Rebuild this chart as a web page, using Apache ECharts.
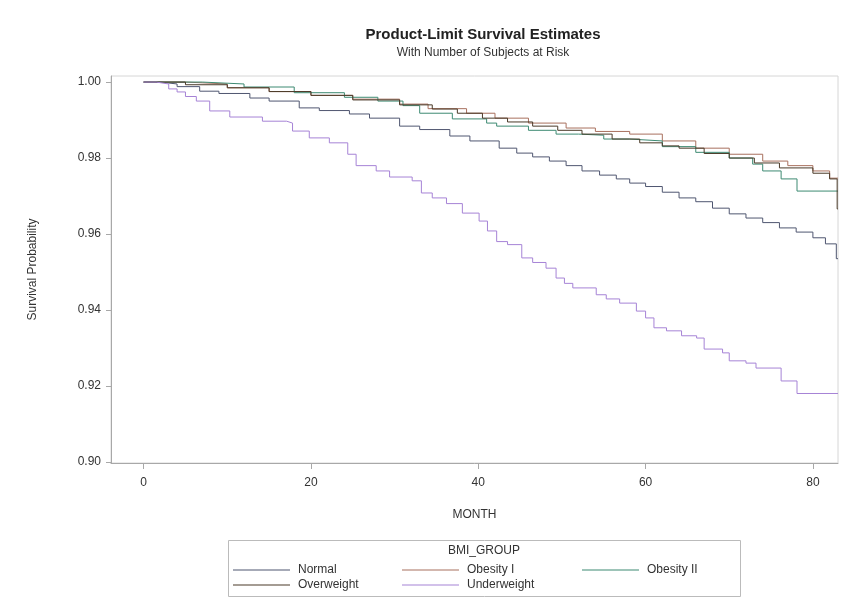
<!DOCTYPE html>
<html lang="en">
<head>
  <meta charset="utf-8">
  <style>
    html, body { margin: 0; padding: 0; background: #fff; }
    #container { width: 846px; height: 600px; }
  </style>
  <title>Product-Limit Survival Estimates</title>
</head>
<body>
  <div id="container"></div>

  <script type="text/javascript" src="https://fastly.jsdelivr.net/npm/echarts@6.0.0/dist/echarts.min.js"></script>

  <script type="text/javascript">
    // month / survival pairs (value holds until the next point)
    var normal = [[0,1.0],[2,0.9995],[4,0.9988],[6.7,0.9976],[9,0.997],[12.7,0.9958],[15,0.995],
      [18.6,0.9932],[21,0.9925],[24.6,0.9916],[27,0.9905],[30.6,0.9884],[33,0.9875],[36.6,0.9858],
      [39,0.9845],[42.5,0.9826],[44.6,0.9813],[46.5,0.9803],[48.5,0.9792],[50.5,0.978],[52.4,0.9766],
      [54.5,0.9755],[56.5,0.9745],[58.1,0.9734],[60,0.9725],[62,0.971],[64,0.9695],[66,0.9685],
      [68,0.9668],[70,0.9653],[72,0.9642],[74,0.963],[76,0.9616],[78,0.9605],[80,0.959],
      [81.5,0.9574],[82.8,0.9535],[83,0.9535]];
    var obesity1 = [[0,1.0],[5,0.9995],[10,0.9985],[15,0.9975],[20,0.9965],[25,0.9955],[30.6,0.9942],
      [34,0.993],[38.6,0.9918],[42,0.9905],[46,0.9892],[50.5,0.9879],[54,0.987],[58.1,0.9863],
      [62,0.9845],[66,0.9826],[70,0.981],[74,0.9792],[77,0.978],[80,0.9766],[82,0.9747],[83,0.9747]];
    var obesity2 = [[0,1.0],[7,0.9995],[12,0.9987],[18,0.9972],[24,0.996],[28,0.995],[31,0.9938],
      [33,0.9918],[36.9,0.9903],[41,0.9892],[42.2,0.9884],[46,0.9873],[49.3,0.9863],[52,0.986],
      [55,0.985],[58.1,0.9845],[62,0.983],[66,0.9815],[70,0.98],[72.8,0.9784],[74,0.9766],
      [76.2,0.9745],[78.1,0.9713],[83,0.9713]];
    var overweight = [[0,1.0],[5,0.9993],[10,0.9985],[15,0.9975],[20,0.9965],[25,0.9953],[30.6,0.994],
      [34.5,0.9929],[37.5,0.9918],[40.5,0.9905],[43.5,0.9895],[46.5,0.9884],[49.5,0.9873],
      [52.4,0.9863],[56,0.985],[59.3,0.984],[62,0.9832],[64,0.9826],[67,0.9812],[70,0.98],
      [73,0.9787],[76,0.9774],[80,0.976],[82,0.9745],[82.9,0.9666],[83,0.9666]];
    var underweight = [[0,1.0],[1.5,0.9995],[3,0.9982],[4,0.9974],[5,0.9962],[6.3,0.995],[7.9,0.9924],
      [10.3,0.9908],[14.2,0.9897],[17.1,0.9892],[17.8,0.9871],[19.8,0.9853],[22.2,0.984],[24.4,0.981],
      [25.4,0.978],[27.8,0.9766],[29.4,0.975],[32.1,0.974],[33.2,0.9708],[34.5,0.9695],[36.2,0.968],
      [38.1,0.9655],[40.1,0.9634],[41.1,0.9608],[42.2,0.958],[43.5,0.9572],[45.2,0.9537],[46.5,0.9525],
      [48.1,0.951],[49.3,0.9484],[50.3,0.947],[51.3,0.9458],[54.1,0.944],[55.3,0.9429],[56.9,0.9418],
      [58.9,0.9397],[60,0.9379],[61,0.9353],[62.5,0.9345],[64.3,0.9332],[66.1,0.9326],[67,0.9297],
      [69.2,0.9287],[70,0.9266],[72,0.926],[73.2,0.9247],[76.2,0.9213],[78.1,0.918],[83,0.918]];

    var groups = ['Normal', 'Obesity I', 'Obesity II', 'Overweight', 'Underweight'];
    var groupData = [normal, obesity1, obesity2, overweight, underweight];
    var colors = ['#4f5670', '#a8705e', '#3d8a72', '#4a3a28', '#a683d6'];

    var monthTicks = [0, 20, 40, 60, 80];
    var survTicks = [0.90, 0.92, 0.94, 0.96, 0.98, 1.00];

    // legend slots: [left, top]
    var legendPos = [[233, 564], [402, 564], [582, 564], [233, 579], [402, 579]];

    var chart = echarts.init(document.getElementById('container'));

    var labelFont = { fontFamily: 'Liberation Sans, Arial, sans-serif', fontSize: 12, color: '#333' };

    var option = {
      animation: false,
      title: {
        text: 'Product-Limit Survival Estimates',
        subtext: 'With Number of Subjects at Risk',
        left: 478,
        textAlign: 'center',
        top: 22,
        itemGap: 5,
        textStyle: { fontFamily: 'Liberation Sans, Arial, sans-serif', fontSize: 15, fontWeight: 'bold', color: '#222' },
        subtextStyle: { fontFamily: 'Liberation Sans, Arial, sans-serif', fontSize: 12, color: '#333' }
      },
      grid: {
        left: 111, top: 76, right: 8, bottom: 137,
        show: true, borderColor: '#d6d6d6', borderWidth: 1
      },
      xAxis: {
        type: 'value',
        min: -3.9, max: 83,
        name: 'MONTH',
        nameLocation: 'middle',
        nameGap: 46,
        nameTextStyle: labelFont,
        axisLine: { onZero: false, lineStyle: { color: '#a8a8a8' } },
        axisTick: { customValues: monthTicks, length: 6, lineStyle: { color: '#a8a8a8' } },
        axisLabel: Object.assign({ customValues: monthTicks, margin: 14 }, labelFont),
        splitLine: { show: false }
      },
      yAxis: {
        type: 'value',
        min: 0.8997, max: 1.0016,
        name: 'Survival Probability',
        nameLocation: 'middle',
        nameGap: 72,
        nameTextStyle: labelFont,
        axisLine: { show: true, onZero: false, lineStyle: { color: '#a8a8a8' } },
        axisTick: { show: true, customValues: survTicks, length: 5, lineStyle: { color: '#a8a8a8' } },
        axisLabel: Object.assign({
          customValues: survTicks, margin: 10,
          formatter: function (v) { return v.toFixed(2); }
        }, labelFont),
        splitLine: { show: false }
      },
      legend: groups.map(function (g, i) {
        return {
          data: [g],
          icon: 'rect',
          left: legendPos[i][0], top: legendPos[i][1],
          itemWidth: 57, itemHeight: 1, itemGap: 0,
          padding: 0,
          textStyle: { fontFamily: 'Liberation Sans, Arial, sans-serif', fontSize: 12, color: '#333', padding: [0, 0, 0, 3] }
        };
      }),
      graphic: [
        {
          type: 'rect',
          shape: { x: 228.5, y: 540.5, width: 512, height: 56 },
          style: { fill: 'none', stroke: '#bbbbbb', lineWidth: 1 }
        },
        {
          type: 'text',
          x: 484, y: 545,
          style: { text: 'BMI_GROUP', fill: '#333', font: '12px Liberation Sans, Arial, sans-serif', textAlign: 'center' }
        }
      ],
      series: groups.map(function (g, i) {
        return {
          name: g,
          type: 'line',
          step: 'end',
          symbol: 'none',
          data: groupData[i],
          color: colors[i],
          lineStyle: { width: 1, color: colors[i] }
        };
      })
    };

    chart.setOption(option);
  </script>
</body>
</html>
